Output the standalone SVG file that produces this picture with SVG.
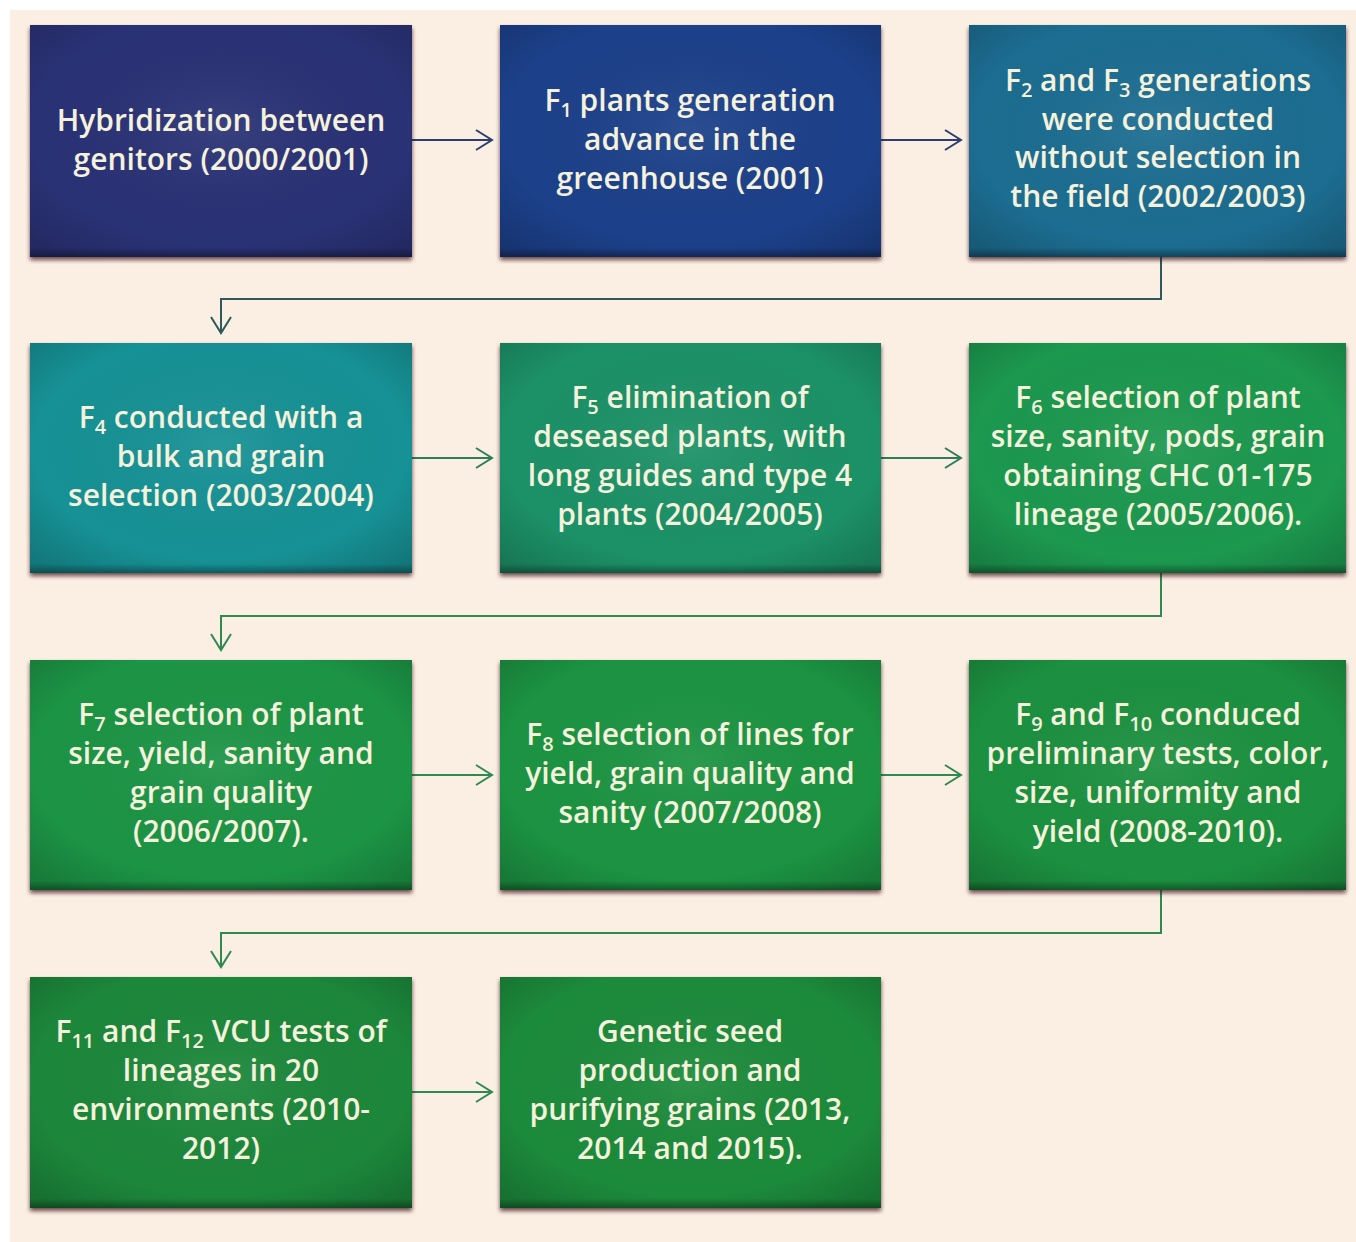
<svg xmlns="http://www.w3.org/2000/svg" width="1356" height="1242" viewBox="0 0 1356 1242">
<defs>
<style>
.box text{font-family:"Open Sans","Liberation Sans",sans-serif;font-size:30px;font-weight:600;fill:#f4f1dc;text-anchor:middle}
.sub{font-size:20px}
.c{fill:none;stroke-width:2}
</style>
<filter id="sh" x="-5%" y="-5%" width="110%" height="115%">
<feDropShadow dx="0" dy="3" stdDeviation="2" flood-color="#3a0c1c" flood-opacity="0.75"/>
</filter>
<radialGradient id="ov" cx="0.5" cy="0.45" r="0.7">
<stop offset="0" stop-color="#ffffff" stop-opacity="0.07"/>
<stop offset="0.7" stop-color="#000000" stop-opacity="0"/>
<stop offset="1" stop-color="#000000" stop-opacity="0.18"/>
</radialGradient>
<linearGradient id="bt" x1="0" y1="0" x2="0" y2="1">
<stop offset="0.96" stop-color="#000" stop-opacity="0"/>
<stop offset="1" stop-color="#000" stop-opacity="0.35"/>
</linearGradient>
<marker id="a1" markerUnits="userSpaceOnUse" markerWidth="24" markerHeight="24" viewBox="-20 -12 24 24" refX="0" refY="0" orient="auto"><path d="M-16,-10 L0,0 L-16,10" fill="none" stroke="#2d3f6e" stroke-width="2"/></marker>
<marker id="a2" markerUnits="userSpaceOnUse" markerWidth="24" markerHeight="24" viewBox="-20 -12 24 24" refX="0" refY="0" orient="auto"><path d="M-16,-10 L0,0 L-16,10" fill="none" stroke="#2c5a5c" stroke-width="2"/></marker>
<marker id="a3" markerUnits="userSpaceOnUse" markerWidth="24" markerHeight="24" viewBox="-20 -12 24 24" refX="0" refY="0" orient="auto"><path d="M-16,-10 L0,0 L-16,10" fill="none" stroke="#2e7d5c" stroke-width="2"/></marker>
<marker id="a4" markerUnits="userSpaceOnUse" markerWidth="24" markerHeight="24" viewBox="-20 -12 24 24" refX="0" refY="0" orient="auto"><path d="M-16,-10 L0,0 L-16,10" fill="none" stroke="#2e8a50" stroke-width="2"/></marker>
</defs>
<rect x="0" y="0" width="1356" height="1242" fill="#ffffff"/>
<rect x="10" y="10" width="1346" height="1232" fill="#fbeee2"/>

<g id="connectors">
<path class="c" d="M412,140 H492" stroke="#2d3f6e" marker-end="url(#a1)"/>
<path class="c" d="M881,140 H961" stroke="#2d3f6e" marker-end="url(#a1)"/>
<path class="c" d="M1161,257 V299 H221 V333" stroke="#2c5a5c" marker-end="url(#a2)"/>
<path class="c" d="M412,458 H492" stroke="#2e7d5c" marker-end="url(#a3)"/>
<path class="c" d="M881,458 H961" stroke="#2e7d5c" marker-end="url(#a3)"/>
<path class="c" d="M1161,573 V616 H221 V650" stroke="#2e8a50" marker-end="url(#a4)"/>
<path class="c" d="M412,775 H492" stroke="#2e8a50" marker-end="url(#a4)"/>
<path class="c" d="M881,775 H961" stroke="#2e8a50" marker-end="url(#a4)"/>
<path class="c" d="M1161,890 V933 H221 V967" stroke="#2e8a50" marker-end="url(#a4)"/>
<path class="c" d="M412,1092 H492" stroke="#2e8a50" marker-end="url(#a4)"/>
</g>

<g id="n1" class="box">
<rect x="30" y="25" width="382" height="232" fill="#2b3276" filter="url(#sh)"/>
<rect x="30" y="25" width="382" height="232" fill="url(#ov)"/>
<rect x="30" y="25" width="382" height="232" fill="url(#bt)"/>
<text x="221" y="131">Hybridization between</text>
<text x="221" y="170">genitors (2000/2001)</text>
</g>

<g id="n2" class="box">
<rect x="500" y="25" width="381" height="232" fill="#1f3f8a" filter="url(#sh)"/>
<rect x="500" y="25" width="381" height="232" fill="url(#ov)"/>
<rect x="500" y="25" width="381" height="232" fill="url(#bt)"/>
<text x="690" y="111">F<tspan class="sub" dy="6">1</tspan><tspan dy="-6"> plants generation</tspan></text>
<text x="690" y="150">advance in the</text>
<text x="690" y="189">greenhouse (2001)</text>
</g>

<g id="n3" class="box">
<rect x="969" y="25" width="377" height="232" fill="#1a6d91" filter="url(#sh)"/>
<rect x="969" y="25" width="377" height="232" fill="url(#ov)"/>
<rect x="969" y="25" width="377" height="232" fill="url(#bt)"/>
<text x="1158" y="91">F<tspan class="sub" dy="6">2</tspan><tspan dy="-6"> and F</tspan><tspan class="sub" dy="6">3</tspan><tspan dy="-6"> generations</tspan></text>
<text x="1158" y="130">were conducted</text>
<text x="1158" y="168">without selection in</text>
<text x="1158" y="207">the field (2002/2003)</text>
</g>

<g id="n4" class="box">
<rect x="30" y="343" width="382" height="230" fill="#189195" filter="url(#sh)"/>
<rect x="30" y="343" width="382" height="230" fill="url(#ov)"/>
<rect x="30" y="343" width="382" height="230" fill="url(#bt)"/>
<text x="221" y="428">F<tspan class="sub" dy="6">4</tspan><tspan dy="-6"> conducted with a</tspan></text>
<text x="221" y="467">bulk and grain</text>
<text x="221" y="506">selection (2003/2004)</text>
</g>

<g id="n5" class="box">
<rect x="500" y="343" width="381" height="230" fill="#1a9168" filter="url(#sh)"/>
<rect x="500" y="343" width="381" height="230" fill="url(#ov)"/>
<rect x="500" y="343" width="381" height="230" fill="url(#bt)"/>
<text x="690" y="408">F<tspan class="sub" dy="6">5</tspan><tspan dy="-6"> elimination of</tspan></text>
<text x="690" y="447">deseased plants, with</text>
<text x="690" y="486">long guides and type 4</text>
<text x="690" y="525">plants (2004/2005)</text>
</g>

<g id="n6" class="box">
<rect x="969" y="343" width="377" height="230" fill="#1e9850" filter="url(#sh)"/>
<rect x="969" y="343" width="377" height="230" fill="url(#ov)"/>
<rect x="969" y="343" width="377" height="230" fill="url(#bt)"/>
<text x="1158" y="408">F<tspan class="sub" dy="6">6</tspan><tspan dy="-6"> selection of plant</tspan></text>
<text x="1158" y="447">size, sanity, pods, grain</text>
<text x="1158" y="486">obtaining CHC 01-175</text>
<text x="1158" y="525">lineage (2005/2006).</text>
</g>

<g id="n7" class="box">
<rect x="30" y="660" width="382" height="230" fill="#1e9444" filter="url(#sh)"/>
<rect x="30" y="660" width="382" height="230" fill="url(#ov)"/>
<rect x="30" y="660" width="382" height="230" fill="url(#bt)"/>
<text x="221" y="725">F<tspan class="sub" dy="6">7</tspan><tspan dy="-6"> selection of plant</tspan></text>
<text x="221" y="764">size, yield, sanity and</text>
<text x="221" y="803">grain quality</text>
<text x="221" y="842">(2006/2007).</text>
</g>

<g id="n8" class="box">
<rect x="500" y="660" width="381" height="230" fill="#1e9343" filter="url(#sh)"/>
<rect x="500" y="660" width="381" height="230" fill="url(#ov)"/>
<rect x="500" y="660" width="381" height="230" fill="url(#bt)"/>
<text x="690" y="745">F<tspan class="sub" dy="6">8</tspan><tspan dy="-6"> selection of lines for</tspan></text>
<text x="690" y="784">yield, grain quality and</text>
<text x="690" y="823">sanity (2007/2008)</text>
</g>

<g id="n9" class="box">
<rect x="969" y="660" width="377" height="230" fill="#1f9040" filter="url(#sh)"/>
<rect x="969" y="660" width="377" height="230" fill="url(#ov)"/>
<rect x="969" y="660" width="377" height="230" fill="url(#bt)"/>
<text x="1158" y="725">F<tspan class="sub" dy="6">9</tspan><tspan dy="-6"> and F</tspan><tspan class="sub" dy="6">10</tspan><tspan dy="-6"> conduced</tspan></text>
<text x="1158" y="764">preliminary tests, color,</text>
<text x="1158" y="803">size, uniformity and</text>
<text x="1158" y="842">yield (2008-2010).</text>
</g>

<g id="n10" class="box">
<rect x="30" y="977" width="382" height="231" fill="#1c873a" filter="url(#sh)"/>
<rect x="30" y="977" width="382" height="231" fill="url(#ov)"/>
<rect x="30" y="977" width="382" height="231" fill="url(#bt)"/>
<text x="221" y="1042">F<tspan class="sub" dy="6">11</tspan><tspan dy="-6"> and F</tspan><tspan class="sub" dy="6">12</tspan><tspan dy="-6"> VCU tests of</tspan></text>
<text x="221" y="1081">lineages in 20</text>
<text x="221" y="1120">environments (2010-</text>
<text x="221" y="1159">2012)</text>
</g>

<g id="n11" class="box">
<rect x="500" y="977" width="381" height="231" fill="#1d8a3b" filter="url(#sh)"/>
<rect x="500" y="977" width="381" height="231" fill="url(#ov)"/>
<rect x="500" y="977" width="381" height="231" fill="url(#bt)"/>
<text x="690" y="1042">Genetic seed</text>
<text x="690" y="1081">production and</text>
<text x="690" y="1120">purifying grains (2013,</text>
<text x="690" y="1159">2014 and 2015).</text>
</g>
</svg>
